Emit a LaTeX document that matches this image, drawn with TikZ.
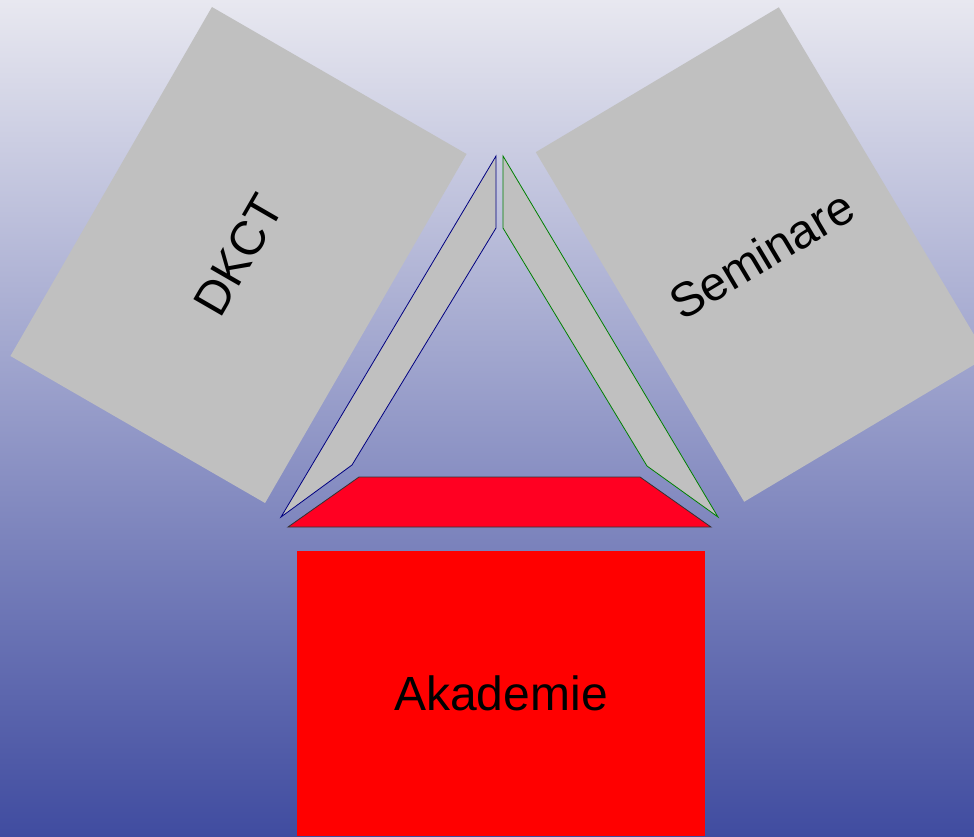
\documentclass[tikz,border=0pt]{standalone}
\usepackage{fontspec}
\setmainfont{Liberation Sans}
\definecolor{bgtop}{RGB}{232,232,240}
\definecolor{bgmid}{RGB}{162,164,202}
\definecolor{bgbot}{RGB}{64,76,160}
\definecolor{panelgray}{RGB}{192,192,192}
\definecolor{trapred}{RGB}{255,0,34}
\definecolor{navyline}{RGB}{0,0,128}
\definecolor{greenline}{RGB}{0,128,0}
\tikzset{
  graybox/.style={fill=panelgray, inner sep=0pt, font=\fontsize{48pt}{56pt}\selectfont, text=black},
  redbox/.style={fill=red, inner sep=0pt, font=\fontsize{48pt}{56pt}\selectfont, text=black},
  panelL/.style={fill=panelgray, draw=navyline, line width=0.8pt, line join=miter},
  panelR/.style={fill=panelgray, draw=greenline, line width=0.8pt, line join=miter},
  roof/.style={fill=trapred, draw=black!80, line width=0.8pt}
}
\begin{document}
\begin{tikzpicture}[x=1pt,y=1pt]
\useasboundingbox (0,0) rectangle (974,-836);
\clip (0,0) rectangle (974,-836);
\shade[top color=bgtop, middle color=bgmid, bottom color=bgbot] (0,0) rectangle (974,-836);
% rotated panels
\node[graybox, rotate=60, minimum width=403pt, minimum height=294pt] (dkct) at (238.5,-255) {DKCT};
\node[graybox, rotate=30.8, minimum width=283pt, minimum height=407pt] (sem) at (761.5,-254.5) {Seminare};
% triangle parts
\coordinate (l1) at (496,-156);
\coordinate (l2) at (496,-228);
\coordinate (l3) at (352,-465);
\coordinate (l4) at (281,-517);
\coordinate (r1) at (503,-156);
\coordinate (r2) at (503,-228);
\coordinate (r3) at (647,-466);
\coordinate (r4) at (718,-517);
\coordinate (t1) at (359,-477);
\coordinate (t2) at (640,-477);
\coordinate (t3) at (711,-527);
\coordinate (t4) at (288,-527);
\draw[panelL] (l1) -- (l2) -- (l3) -- (l4) -- cycle;
\draw[panelR] (r1) -- (r2) -- (r3) -- (r4) -- cycle;
\draw[roof] (t1) -- (t2) -- (t3) -- (t4) -- cycle;
% base
\node[redbox, minimum width=408pt, minimum height=285pt] (akad) at (501,-693.5) {Akademie};
\end{tikzpicture}
\end{document}
